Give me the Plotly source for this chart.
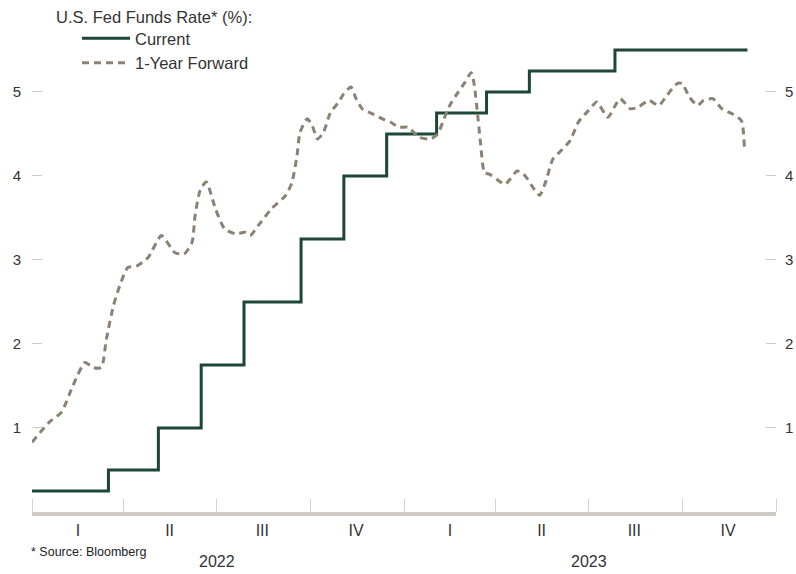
import plotly.graph_objects as go

# ---- data ----
current_dates = ["2022-01-01", "2022-03-17", "2022-05-05", "2022-06-16", "2022-07-28",
                 "2022-09-22", "2022-11-03", "2022-12-15", "2023-02-02", "2023-03-23",
                 "2023-05-04", "2023-07-27", "2023-12-04"]
current_values = [0.25, 0.50, 1.00, 1.75, 2.50, 3.25, 4.00, 4.50, 4.75, 5.00, 5.25, 5.50, 5.50]

forward_dates = [
    "2022-01-01", "2022-01-18", "2022-01-30", "2022-02-10", "2022-02-22", "2022-03-02",
    "2022-03-10", "2022-03-15", "2022-03-22", "2022-03-28", "2022-04-05", "2022-04-14",
    "2022-04-25", "2022-05-08", "2022-05-21", "2022-05-30", "2022-06-07", "2022-06-10",
    "2022-06-15", "2022-06-21", "2022-06-30", "2022-07-09", "2022-07-20", "2022-07-29",
    "2022-08-03", "2022-08-11", "2022-08-24", "2022-09-07", "2022-09-13", "2022-09-18",
    "2022-09-21", "2022-09-28", "2022-10-03", "2022-10-08", "2022-10-14", "2022-10-21",
    "2022-10-29", "2022-11-03", "2022-11-10", "2022-11-15", "2022-11-21", "2022-12-01",
    "2022-12-11", "2022-12-19", "2022-12-27", "2023-01-05", "2023-01-16", "2023-01-27",
    "2023-02-03", "2023-02-08", "2023-02-14", "2023-02-21", "2023-03-01", "2023-03-08",
    "2023-03-11", "2023-03-14", "2023-03-17", "2023-03-21", "2023-03-26", "2023-04-02",
    "2023-04-10", "2023-04-15", "2023-04-22", "2023-04-30", "2023-05-06", "2023-05-14",
    "2023-05-20", "2023-05-27", "2023-06-04", "2023-06-13", "2023-06-21", "2023-07-01",
    "2023-07-09", "2023-07-12", "2023-07-20", "2023-08-01", "2023-08-11", "2023-08-19",
    "2023-08-29", "2023-09-08", "2023-09-16", "2023-09-26", "2023-10-01", "2023-10-08",
    "2023-10-16", "2023-10-22", "2023-10-31", "2023-11-09", "2023-11-19", "2023-11-28",
    "2023-12-01"]
forward_values = [
    0.83, 1.07, 1.19, 1.50, 1.78, 1.72,
    1.72, 2.06, 2.46, 2.69, 2.91, 2.93,
    3.03, 3.29, 3.09, 3.07, 3.21, 3.53,
    3.83, 3.93, 3.61, 3.37, 3.31, 3.33,
    3.29, 3.41, 3.61, 3.77, 3.92, 4.24,
    4.52, 4.68, 4.60, 4.44, 4.52, 4.76,
    4.88, 4.98, 5.06, 4.92, 4.80, 4.74,
    4.68, 4.64, 4.58, 4.58, 4.46, 4.44,
    4.50, 4.64, 4.82, 4.96, 5.10, 5.23,
    5.08, 4.76, 4.40, 4.04, 4.02, 3.96,
    3.90, 3.96, 4.06, 4.00, 3.89, 3.77,
    3.93, 4.20, 4.30, 4.42, 4.64, 4.78,
    4.88, 4.84, 4.70, 4.92, 4.80, 4.82,
    4.90, 4.84, 4.96, 5.10, 5.10, 4.94,
    4.84, 4.90, 4.92, 4.80, 4.74, 4.66,
    4.34]

quarter_mid = ["2022-02-15", "2022-05-16", "2022-08-15", "2022-11-15",
               "2023-02-15", "2023-05-16", "2023-08-15", "2023-11-15"]
quarter_labels = ["I", "II", "III", "IV", "I", "II", "III", "IV"]
quarter_bounds = ["2022-01-01", "2022-04-01", "2022-07-01", "2022-10-01", "2023-01-01",
                  "2023-04-01", "2023-07-01", "2023-10-01", "2024-01-01"]
year_mid = ["2022-07-02", "2023-07-02"]
year_labels = ["2022", "2023"]
y_ticks = [1, 2, 3, 4, 5]

FONT = "Liberation Sans, Arial, sans-serif"
GREEN = "#1d4636"
TAUPE = "#8b8274"
TXT = "#333333"

fig = go.Figure()
fig.add_trace(go.Scatter(x=current_dates, y=current_values, mode="lines", name="Current",
                         line=dict(color=GREEN, width=3, shape="hv")))
fig.add_trace(go.Scatter(x=forward_dates, y=forward_values, mode="lines", name="1-Year Forward",
                         line=dict(color=TAUPE, width=3, dash="7px,5px", shape="spline",
                                   smoothing=0.6)))
# invisible trace to carry right axis
fig.add_trace(go.Scatter(x=[current_dates[0]], y=[current_values[0]], yaxis="y2",
                         mode="lines", showlegend=False, hoverinfo="skip",
                         line=dict(color="rgba(0,0,0,0)")))

yr = [0, 5.821]
fig.update_layout(
    width=796, height=574,
    margin=dict(l=32, r=20, t=23, b=62, autoexpand=False),
    paper_bgcolor="white", plot_bgcolor="white",
    font=dict(family=FONT, color=TXT, size=15),
    showlegend=True,
    legend=dict(x=(77 - 32) / 744, y=1.004, xanchor="left", yanchor="top",
                font=dict(size=16.5, color=TXT, family=FONT),
                bgcolor="rgba(0,0,0,0)", tracegroupgap=0, itemwidth=48),
    xaxis=dict(type="date", range=["2022-01-01", "2024-01-01"], automargin=False,
               tickmode="array", tickvals=quarter_mid, ticktext=quarter_labels,
               ticks="", showgrid=False, zeroline=False,
               showline=True, linecolor="#cfc8c3", linewidth=4,
               tickfont=dict(size=16, color=TXT), ticklabelstandoff=1,
               minor=dict(tickmode="array", tickvals=quarter_bounds, ticks="inside",
                          ticklen=13, tickcolor="#d8d2ce", tickwidth=1, showgrid=False)),
    yaxis=dict(range=yr, tickmode="array", tickvals=y_ticks, ticks="inside", automargin=False,
               ticklen=10, tickcolor="#cccccc", tickwidth=1, showgrid=False,
               zeroline=False, showline=False, ticklabelstandoff=10,
               tickfont=dict(size=15, color=TXT)),
    yaxis2=dict(range=yr, overlaying="y", side="right", tickmode="array", tickvals=y_ticks,
                ticks="inside", ticklen=10, tickcolor="#cccccc", tickwidth=1, automargin=False,
                showgrid=False, zeroline=False, showline=False, ticklabelstandoff=8,
                tickfont=dict(size=15, color=TXT)),
)

fig.add_annotation(text="U.S. Fed Funds Rate* (%):", xref="paper", yref="paper",
                   x=(54 - 32) / 744, y=1 - (17 - 23) / 489, xanchor="left", yanchor="middle",
                   showarrow=False, font=dict(size=16.5, color=TXT, family=FONT))
for xm, lab in zip(year_mid, year_labels):
    fig.add_annotation(text=lab, x=xm, xref="x", yref="paper", y=(512 - 561) / 489,
                       xanchor="center", yanchor="middle", showarrow=False,
                       font=dict(size=16, color=TXT, family=FONT))
fig.add_annotation(text="* Source: Bloomberg", xref="paper", yref="paper",
                   x=(29 - 32) / 744, y=(512 - 552) / 489, xanchor="left", yanchor="middle",
                   showarrow=False, font=dict(size=12.5, color="#222222", family=FONT))

fig.write_html("out.html", config={"displayModeBar": False},
               post_script="document.body.style.margin='0';document.body.style.padding='0';")
